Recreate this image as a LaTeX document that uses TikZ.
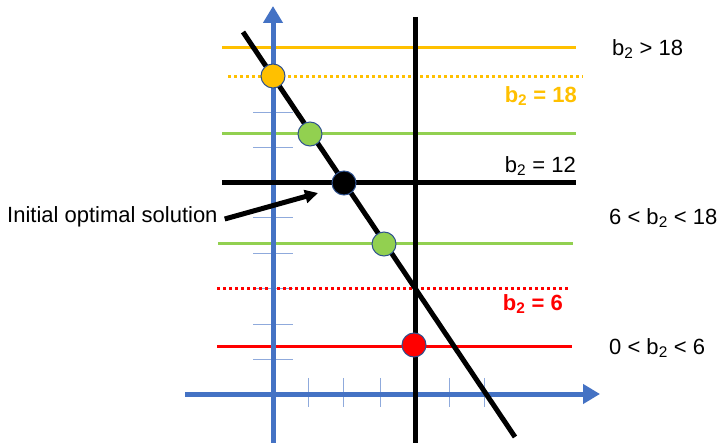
\documentclass[tikz,border=0pt]{standalone}
\usepackage{fontspec}
\setmainfont{Liberation Sans}
\usetikzlibrary{arrows.meta}
\definecolor{gold}{HTML}{FFC000}
\definecolor{lgreen}{HTML}{92D050}
\definecolor{axblue}{HTML}{4472C4}
\definecolor{tickblue}{HTML}{8FAADC}
\definecolor{rimblue}{HTML}{2F528F}
\definecolor{pred}{HTML}{FF0000}
\tikzset{
  hline/.style={line width=3pt},
  dotline/.style={line width=3pt, dash pattern=on 3pt off 3pt},
  blk/.style={line width=5pt, black},
  axis/.style={line width=5pt, axblue, -{Triangle[length=17pt,width=19pt]}},
  tck/.style={line width=1pt, tickblue},
  pt/.style={circle, draw=rimblue, line width=1pt, minimum size=24pt, inner sep=0pt},
  lab/.style={font=\fontsize{22}{25}\selectfont, inner sep=0pt},
  blab/.style={font=\fontsize{22}{25}\selectfont\bfseries, inner sep=0pt},
}
\begin{document}
\begin{tikzpicture}[x=1pt,y=-1pt]
\useasboundingbox (0,0) rectangle (720,443);
% ticks on y axis
\foreach \yy in {113,148,183,218,254,289,325,360}
  \draw[tck] (253,\yy) -- (293,\yy);
% ticks on x axis
\foreach \xx in {308,343,380,449,484}
  \draw[tck] (\xx,378) -- (\xx,407);
% coloured horizontal lines
\coordinate (o1) at (222,48);  \coordinate (o2) at (576,48);
\coordinate (od1) at (228,77); \coordinate (od2) at (583,77);
\coordinate (g1) at (222,134); \coordinate (g2) at (576,134);
\coordinate (h1) at (222,183); \coordinate (h2) at (576,183);
\coordinate (k1) at (218,244); \coordinate (k2) at (573,244);
\coordinate (rd1) at (217,289); \coordinate (rd2) at (570,289);
\coordinate (r1) at (217,347); \coordinate (r2) at (572,347);
\draw[hline, gold] (o1) -- (o2);
\draw[dotline, gold] (od1) -- (od2);
\draw[hline, lgreen] (g1) -- (g2);
\draw[hline, lgreen] (k1) -- (k2);
\draw[dotline, pred] (rd1) -- (rd2);
\draw[hline, pred] (r1) -- (r2);
% axes
\coordinate (ya0) at (273,443); \coordinate (ya1) at (273,6);
\coordinate (xa0) at (185,394); \coordinate (xa1) at (600,394);
\draw[axis] (ya0) -- (ya1);
\draw[axis] (xa0) -- (xa1);
% black lines
\coordinate (v1) at (415,17); \coordinate (v2) at (415,443);
\coordinate (d1) at (243,32); \coordinate (d2) at (515,437);
\draw[blk] (h1) -- (h2);
\draw[blk] (v1) -- (v2);
\draw[blk] (d1) -- (d2);
% points
\node[pt, fill=gold] (p1) at (273,76) {};
\node[pt, fill=lgreen] (p2) at (310,134) {};
\node[pt, fill=black] (p3) at (344,183) {};
\node[pt, fill=lgreen] (p4) at (384,244) {};
\node[pt, fill=pred] (p5) at (414,345) {};
% labels
\node[blab, anchor=east, text=gold] (l18) at (577,96) {b\textsubscript{2} = 18};
\node[lab, anchor=east] (l12) at (576,166) {b\textsubscript{2} = 12};
\node[blab, anchor=east, text=pred] (l6) at (563,304) {b\textsubscript{2} = 6};
\node[lab, anchor=west] (r1t) at (612,49) {b\textsubscript{2} > 18};
\node[lab, anchor=west] (r2t) at (609,218) {6 < b\textsubscript{2} < 18};
\node[lab, anchor=west] (r3t) at (609,348) {0 < b\textsubscript{2} < 6};
\node[lab, anchor=west] (init) at (7,217) {Initial optimal solution};
\coordinate (ar) at (318,193);
\draw[line width=5pt, -{Triangle[length=13pt,width=13pt]}] (init.east) ++(7,2) -- (ar);
\end{tikzpicture}
\end{document}
